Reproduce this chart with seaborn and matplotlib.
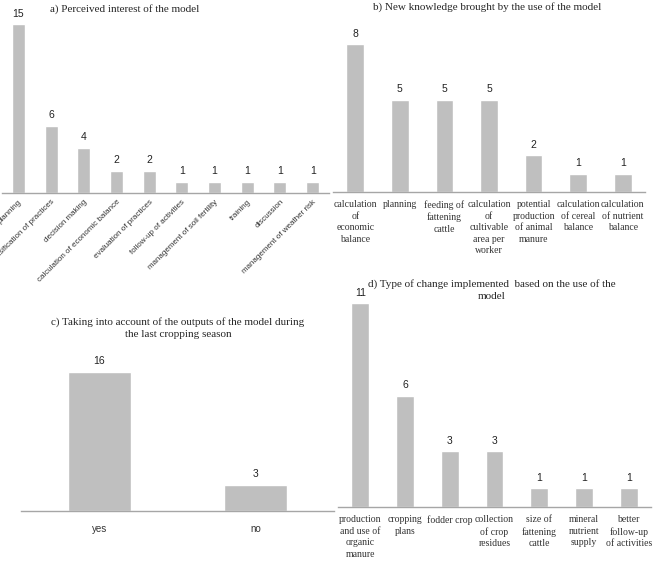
import matplotlib
matplotlib.use("Agg")
import matplotlib.pyplot as plt
import seaborn as sns

# Datos
interes_cat = ["planning", "intensification of practices", "decision making",
               "calculation of economic balance", "evaluation of practices",
               "follow-up of activities", "management of soil fertility",
               "training", "discussion", "management of weather risk"]
interes_val = [15, 6, 4, 2, 2, 1, 1, 1, 1, 1]

conoc_cat = ["calculation\nof\neconomic\nbalance", "planning", "feeding of\nfattening\ncattle",
             "calculation\nof\ncultivable\narea per\nworker", "potential\nproduction\nof animal\nmanure",
             "calculation\nof cereal\nbalance", "calculation\nof nutrient\nbalance"]
conoc_val = [8, 5, 5, 5, 2, 1, 1]

salidas_cat = ["yes", "no"]
salidas_val = [16, 3]

cambio_cat = ["production\nand use of\norganic\nmanure", "cropping\nplans", "fodder crop",
              "collection\nof crop\nresidues", "size of\nfattening\ncattle", "mineral\nnutrient\nsupply",
              "better\nfollow-up\nof activities"]
cambio_val = [11, 6, 3, 3, 1, 1, 1]

sns.set_style("white")
W, H = 654, 573
fig = plt.figure(figsize=(W / 100, H / 100), dpi=100)

BAR = "#bfbfbf"
AXIS = "#a6a6a6"
SERIF = "Liberation Serif"
SANS = "Liberation Sans"


def panel(left, right, base, top, cats, vals, ymax):
    ax = fig.add_axes([left / W, (H - base) / H, (right - left) / W, (base - top) / H])
    sns.barplot(x=list(range(len(cats))), y=vals, color=BAR, saturation=1, width=0.4, ax=ax)
    ax.set_xlim(-0.5, len(cats) - 0.5)
    ax.set_ylim(0, ymax)
    for s in ["top", "right", "left"]:
        ax.spines[s].set_visible(False)
    ax.spines["bottom"].set_color(AXIS)
    ax.spines["bottom"].set_linewidth(1)
    ax.set_yticks([])
    ax.tick_params(axis="x", length=0)
    ax.set_xlabel("")
    ax.set_ylabel("")
    for i, v in enumerate(vals):
        ax.annotate(str(v), (i, v), xytext=(0, 4), textcoords="offset points",
                    ha="center", va="bottom", fontsize=7.5, family=SANS, color="#222222")
    return ax


# a) interes percibido
ax = panel(2, 329, 193, 13, interes_cat, interes_val, 16)
ax.set_xticks(range(len(interes_cat)))
ax.set_xticklabels(interes_cat, rotation=45, ha="right", rotation_mode="anchor",
                   fontsize=5.8, family=SANS, color="#333333")
ax.tick_params(axis="x", pad=4)
fig.text(125 / W, 1 - 9 / H, "a) Perceived interest of the model", ha="center", va="center",
         fontsize=8, family=SERIF)

# b) nuevo conocimiento
ax = panel(333, 645, 192, 35, conoc_cat, conoc_val, 8.5)
ax.set_xticks(range(len(conoc_cat)))
ax.set_xticklabels(conoc_cat, fontsize=7, family=SERIF, color="#333333", linespacing=1.35)
ax.tick_params(axis="x", pad=6)
fig.text(487 / W, 1 - 7 / H, "b) New knowledge brought by the use of the model", ha="center",
         va="center", fontsize=8, family=SERIF)

# c) salidas del modelo
ax = panel(21, 334, 511, 363, salidas_cat, salidas_val, 17)
ax.set_xticks(range(len(salidas_cat)))
ax.set_xticklabels(salidas_cat, fontsize=7, family=SANS, color="#333333")
ax.tick_params(axis="x", pad=9)
fig.text(178 / W, 1 - 328 / H,
         "c) Taking into account of the outputs of the model during\nthe last cropping season",
         ha="center", va="center", fontsize=8, family=SERIF, linespacing=1.4)

# d) tipo de cambio
ax = panel(338, 651, 507, 294, cambio_cat, cambio_val, 11.5)
ax.set_xticks(range(len(cambio_cat)))
ax.set_xticklabels(cambio_cat, fontsize=7, family=SERIF, color="#333333", linespacing=1.35)
ax.tick_params(axis="x", pad=6)
fig.text(492 / W, 1 - 290 / H, "d) Type of change implemented  based on the use of the\nmodel",
         ha="center", va="center", fontsize=8, family=SERIF, linespacing=1.4)

fig.savefig("out.png", dpi=100)
